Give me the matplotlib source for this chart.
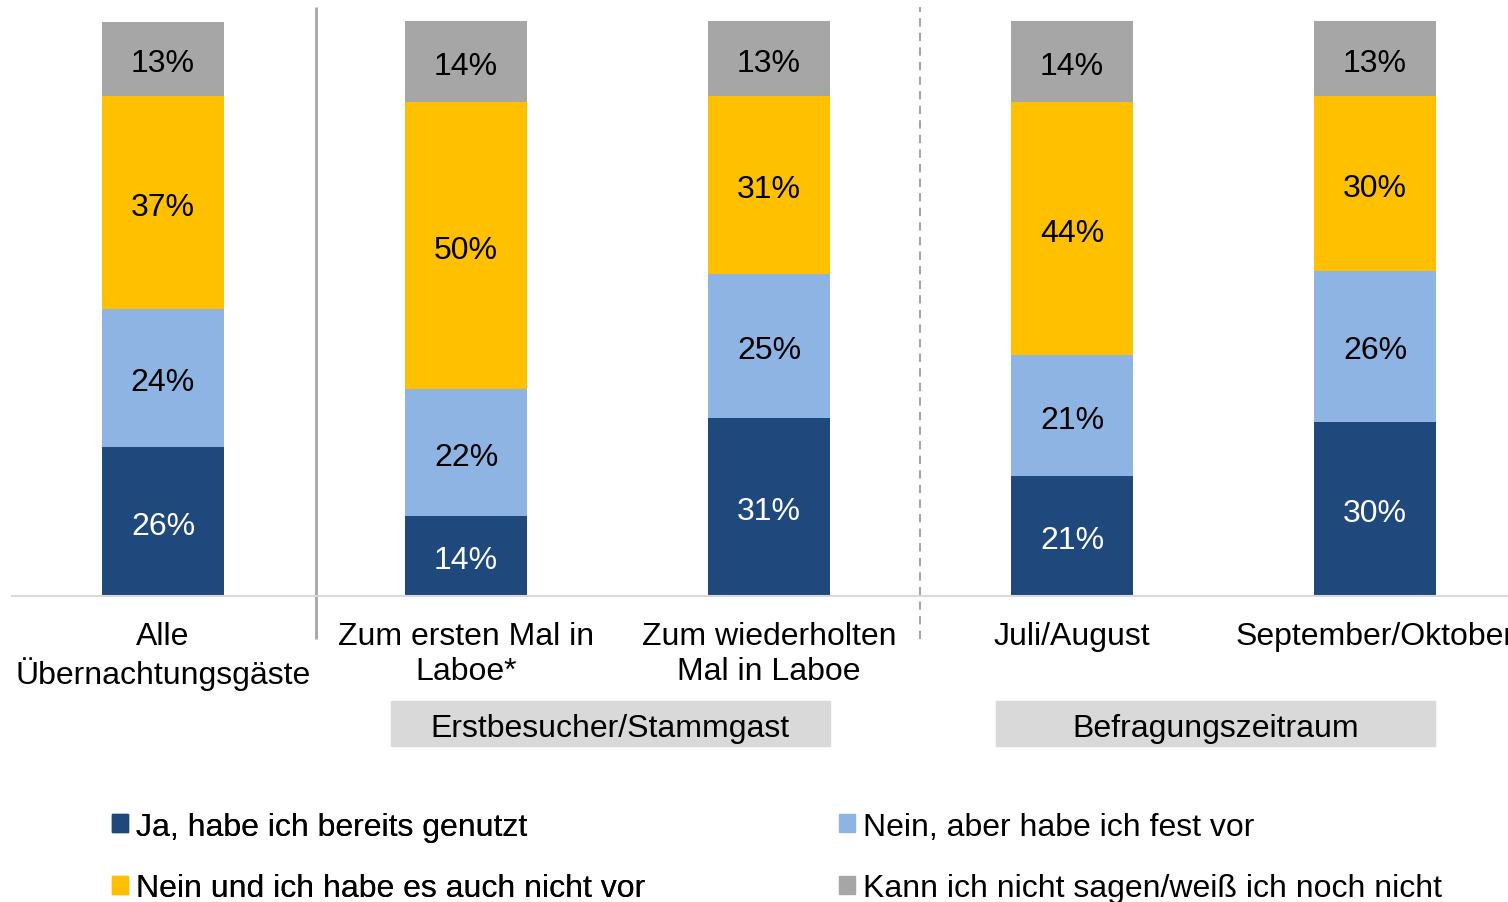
import matplotlib.pyplot as plt
from matplotlib.patches import Rectangle, Patch

plt.rcParams['font.family'] = ['Liberation Sans', 'DejaVu Sans']

categories = ["Alle\nÜbernachtungsgäste", "Zum ersten Mal in\nLaboe*", "Zum wiederholten\nMal in Laboe",
              "Juli/August", "September/Oktober"]
series_names = ["Ja, habe ich bereits genutzt", "Nein, aber habe ich fest vor",
                "Nein und ich habe es auch nicht vor", "Kann ich nicht sagen/weiß ich noch nicht"]

ja = [25.9, 13.9, 31.0, 20.9, 30.3]
nein_aber = [24.0, 22.1, 25.0, 21.0, 26.3]
nein_und = [37.0, 49.9, 31.0, 44.0, 30.3]
weiss_nicht = [13.0, 14.1, 13.0, 14.1, 13.1]

groups = ["Erstbesucher/Stammgast", "Befragungszeitraum"]

colors = ["#1F497D", "#8DB4E2", "#FFC000", "#A6A6A6"]
label_colors = ["white", "black", "black", "black"]

fig = plt.figure(figsize=(15.08, 9.03), dpi=100)
ax = fig.add_axes([11.5 / 1508, 306 / 903, 1515 / 1508, 575 / 903])

x = list(range(len(categories)))
bottom = [0] * len(categories)
for vals, name, col, lc in zip([ja, nein_aber, nein_und, weiss_nicht], series_names, colors, label_colors):
    bars = ax.bar(x, vals, width=0.4, bottom=bottom, color=col, label=name)
    ax.bar_label(bars, labels=[f"{v:.0f}%" for v in vals], label_type="center",
                 color=lc, fontsize=23, padding=-3)
    bottom = [b + v for b, v in zip(bottom, vals)]

ax.set_xlim(-0.5, 4.5)
ax.set_ylim(0, 100)
ax.set_yticks([])
ax.set_xticks(x)
ax.set_xticklabels(categories, fontsize=23, linespacing=1.2)
ax.tick_params(axis="x", length=0, pad=18)
for s in ["top", "left", "right"]:
    ax.spines[s].set_visible(False)
ax.spines["bottom"].set_color("#D9D9D9")
ax.spines["bottom"].set_linewidth(1.5)

# separators between groups
ax.vlines(0.506, -7.5, 102.4, color="#A6A6A6", linewidth=2, clip_on=False)
ax.vlines(2.5, -7.5, 102.4, color="#A6A6A6", linewidth=1.5, linestyles=(0, (4, 3)), clip_on=False)

# group boxes
for (x0, x1), g in zip([(0.752, 2.201), (2.749, 4.198)], groups):
    ax.add_patch(Rectangle((x0, -26.1), x1 - x0, 7.8, color="#D9D9D9", clip_on=False))
    ax.text((x0 + x1) / 2, -23.0, g, ha="center", va="center", fontsize=23)

# legend as two columns
handles = [Patch(color=c) for c in colors]
leg_kw = dict(loc="center left", frameon=False, fontsize=23, borderpad=0,
              handlelength=0.5, handleheight=0.5, handletextpad=0.25, labelspacing=1.0)
leg1 = fig.legend([handles[0], handles[2]], [series_names[0], series_names[2]],
                  bbox_to_anchor=(96 / 1508, 44.5 / 903), **leg_kw)
fig.add_artist(leg1)
fig.legend([handles[1], handles[3]], [series_names[1], series_names[3]],
           bbox_to_anchor=(823 / 1508, 44.5 / 903), **leg_kw)

fig.savefig("out.png", dpi=100)
